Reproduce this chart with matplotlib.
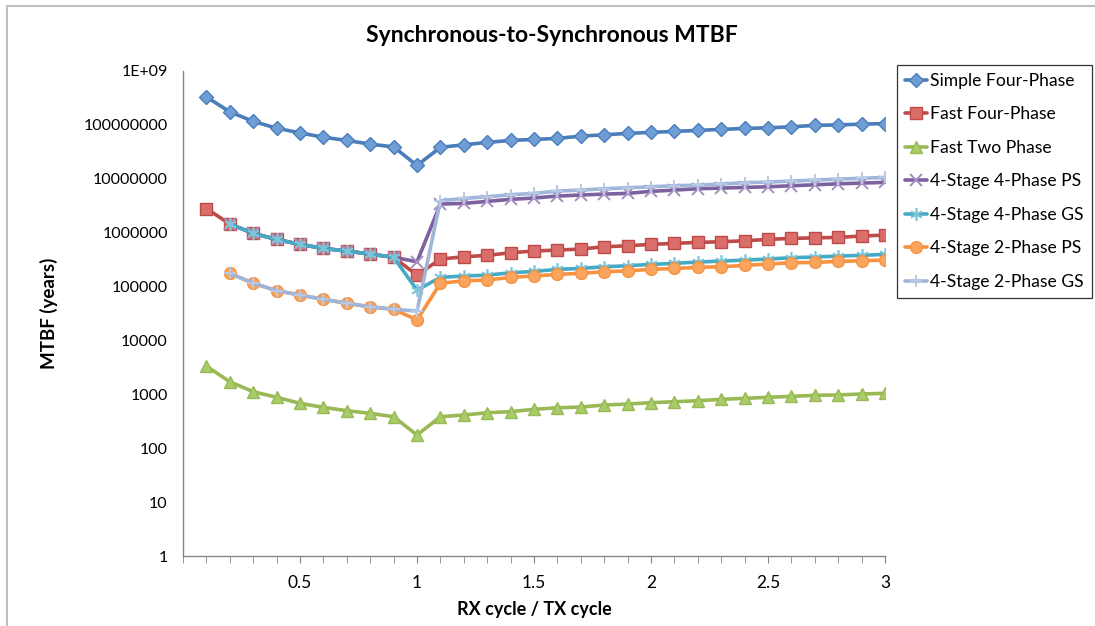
import numpy as np
import matplotlib
matplotlib.use("Agg")
import matplotlib.pyplot as plt
from matplotlib.lines import Line2D

plt.rcParams['font.family'] = ['Lato', 'DejaVu Sans']

nan = float('nan')

rx_tx = [0.1, 0.2, 0.3, 0.4, 0.5, 0.6, 0.7, 0.8, 0.9, 1.0,
         1.1, 1.2, 1.3, 1.4, 1.5, 1.6, 1.7, 1.8, 1.9, 2.0,
         2.1, 2.2, 2.3, 2.4, 2.5, 2.6, 2.7, 2.8, 2.9, 3.0]

simple_four_phase = [3.3e8, 1.75e8, 1.16e8, 8.7e7, 7.1e7, 5.9e7, 5.15e7, 4.4e7, 3.9e7, 1.77e7,
                     3.83e7, 4.27e7, 4.73e7, 5.15e7, 5.38e7, 5.61e7, 6.19e7, 6.55e7, 6.95e7, 7.26e7,
                     7.57e7, 7.9e7, 8.25e7, 8.6e7, 8.83e7, 9.2e7, 9.8e7, 1.0e8, 1.03e8, 1.06e8]

fast_four_phase = [2.8e6, 1.45e6, 9.7e5, 7.5e5, 6.07e5, 5.1e5, 4.56e5, 4.0e5, 3.5e5, 1.63e5,
                   3.24e5, 3.57e5, 3.79e5, 4.24e5, 4.56e5, 4.76e5, 4.96e5, 5.48e5, 5.71e5, 6.07e5,
                   6.33e5, 6.6e5, 6.78e5, 7.08e5, 7.5e5, 7.84e5, 8.0e5, 8.18e5, 8.65e5, 9.02e5]

fast_two_phase = [3350, 1710, 1120, 880, 680, 573, 497, 444, 384, 176,
                  384, 413, 456, 476, 527, 564, 581, 633, 661, 699,
                  729, 761, 807, 843, 880, 918, 958, 975, 1013, 1044]

stage4_4phase_ps = [nan, 1.45e6, 9.7e5, 7.5e5, 6.07e5, 5.1e5, 4.56e5, 4.0e5, 3.5e5, 2.88e5,
                    3.4e6, 3.49e6, 3.81e6, 4.15e6, 4.39e6, 4.78e6, 4.99e6, 5.2e6, 5.36e6, 5.84e6,
                    6.17e6, 6.53e6, 6.72e6, 6.92e6, 7.11e6, 7.42e6, 7.74e6, 8.07e6, 8.32e6, 8.57e6]

stage4_4phase_gs = [nan, 1.45e6, 9.7e5, 7.5e5, 6.07e5, 5.1e5, 4.56e5, 4.0e5, 3.5e5, 8.6e4,
                    1.48e5, 1.57e5, 1.63e5, 1.80e5, 1.91e5, 2.08e5, 2.17e5, 2.33e5, 2.43e5, 2.58e5,
                    2.69e5, 2.85e5, 2.97e5, 3.1e5, 3.24e5, 3.43e5, 3.53e5, 3.68e5, 3.79e5, 3.96e5]

stage4_2phase_ps = [nan, 1.76e5, 1.15e5, 8.4e4, 6.95e4, 5.8e4, 4.9e4, 4.2e4, 3.8e4, 2.4e4,
                    1.15e5, 1.28e5, 1.32e5, 1.48e5, 1.57e5, 1.68e5, 1.76e5, 1.88e5, 1.96e5, 2.08e5,
                    2.17e5, 2.27e5, 2.33e5, 2.47e5, 2.61e5, 2.77e5, 2.8e5, 2.93e5, 3.01e5, 3.1e5]

stage4_2phase_gs = [nan, 1.76e5, 1.15e5, 8.4e4, 6.95e4, 5.8e4, 4.9e4, 4.2e4, 3.8e4, 3.5e4,
                    3.91e6, 4.33e6, 4.64e6, 5.05e6, 5.36e6, 5.91e6, 6.17e6, 6.53e6, 6.81e6, 7.11e6,
                    7.42e6, 7.64e6, 7.97e6, 8.44e6, 8.69e6, 9.06e6, 9.46e6, 9.87e6, 1.02e7, 1.06e7]

series_names = ["Simple Four-Phase", "Fast Four-Phase", "Fast Two Phase",
                "4-Stage 4-Phase PS", "4-Stage 4-Phase GS",
                "4-Stage 2-Phase PS", "4-Stage 2-Phase GS"]

y_tick_values = [1, 10, 100, 1000, 10000, 100000, 1000000, 10000000, 100000000, 1000000000]
y_tick_labels = ["1", "10", "100", "1000", "10000", "100000", "1000000",
                 "10000000", "100000000", "1E+09"]
x_tick_values = [0.5, 1.0, 1.5, 2.0, 2.5, 3.0]
x_tick_labels = ["0.5", "1", "1.5", "2", "2.5", "3"]

title = "Synchronous-to-Synchronous MTBF"
x_label = "RX cycle / TX cycle"
y_label = "MTBF (years)"

styles = [
    dict(color="#4A7EBB", marker="D", mfc="#6F9ED6", mec="#4A7EBB", ms=7),
    dict(color="#BE4B48", marker="s", mfc="#DA6E6B", mec="#BE4B48", ms=8),
    dict(color="#98B954", marker="^", mfc="#A8CC68", mec="#98B954", ms=8.5),
    dict(color="#7D60A0", marker="x", mfc="none", mec="#A58FC2", ms=8, mew=1.4),
    dict(color="#46AAC5", marker=(6, 2, 0), mfc="none", mec="#7CC6DA", ms=9, mew=1.2),
    dict(color="#F69240", marker="o", mfc="#F9A55E", mec="#F69240", ms=8.5),
    dict(color="#9FB5DA", marker="+", mfc="none", mec="#B9C9E4", ms=9, mew=1.4),
]

all_series = [simple_four_phase, fast_four_phase, fast_two_phase,
              stage4_4phase_ps, stage4_4phase_gs, stage4_2phase_ps, stage4_2phase_gs]

W, H = 1095, 626
fig = plt.figure(figsize=(W / 100, H / 100), dpi=100)
ax = fig.add_axes([183 / W, 1 - 556 / H, (885 - 183) / W, (556 - 71) / H])

handles = []
for name, vals, st in zip(series_names, all_series, styles):
    ln, = ax.plot(rx_tx, vals, lw=2.6, solid_capstyle="round", solid_joinstyle="round",
                  label=name, zorder=3, **st)
    handles.append(ln)

ax.set_yscale("log")
ax.set_ylim(1, 1e9)
ax.set_xlim(0, 3)
ax.set_yticks(y_tick_values)
ax.set_yticklabels(y_tick_labels)
ax.yaxis.set_minor_locator(matplotlib.ticker.NullLocator())
ax.set_xticks(x_tick_values)
ax.set_xticklabels(x_tick_labels)
ax.set_xticks([i / 10 for i in range(0, 31)], minor=True)

for s in ["top", "right"]:
    ax.spines[s].set_visible(False)
for s in ["left", "bottom"]:
    ax.spines[s].set_color("#868686")
    ax.spines[s].set_linewidth(1.0)

ax.tick_params(axis="x", which="both", direction="out", length=5, color="#868686",
               labelsize=12.5, pad=9)
ax.tick_params(axis="y", which="both", length=0, labelsize=11.5, pad=11)

fig.text(552 / W, 1 - 36 / H, title, fontsize=16.5, fontweight="bold",
         ha="center", va="center")
ax.set_xlabel(x_label, fontsize=13, fontweight="bold", labelpad=7)
ax.set_ylabel(y_label, fontsize=13.5, fontweight="bold", labelpad=18)

leg = fig.legend(handles=handles, loc="upper left", bbox_to_anchor=(897 / W, 1 - 65 / H),
                 frameon=True, fancybox=False, edgecolor="black", fontsize=12.6,
                 handlelength=1.25, handletextpad=0.2, borderpad=0.45, labelspacing=1.0,
                 borderaxespad=0)
leg.get_frame().set_linewidth(0.9)

# outer chart border (top and left visible)
fig.add_artist(Line2D([7 / W, 7 / W], [0, 1 - 6 / H], transform=fig.transFigure,
                      color="#BFBFBF", lw=1.5))
fig.add_artist(Line2D([7 / W, 1], [1 - 6 / H, 1 - 6 / H], transform=fig.transFigure,
                      color="#BFBFBF", lw=1.5))

fig.savefig("out.png", dpi=100)
